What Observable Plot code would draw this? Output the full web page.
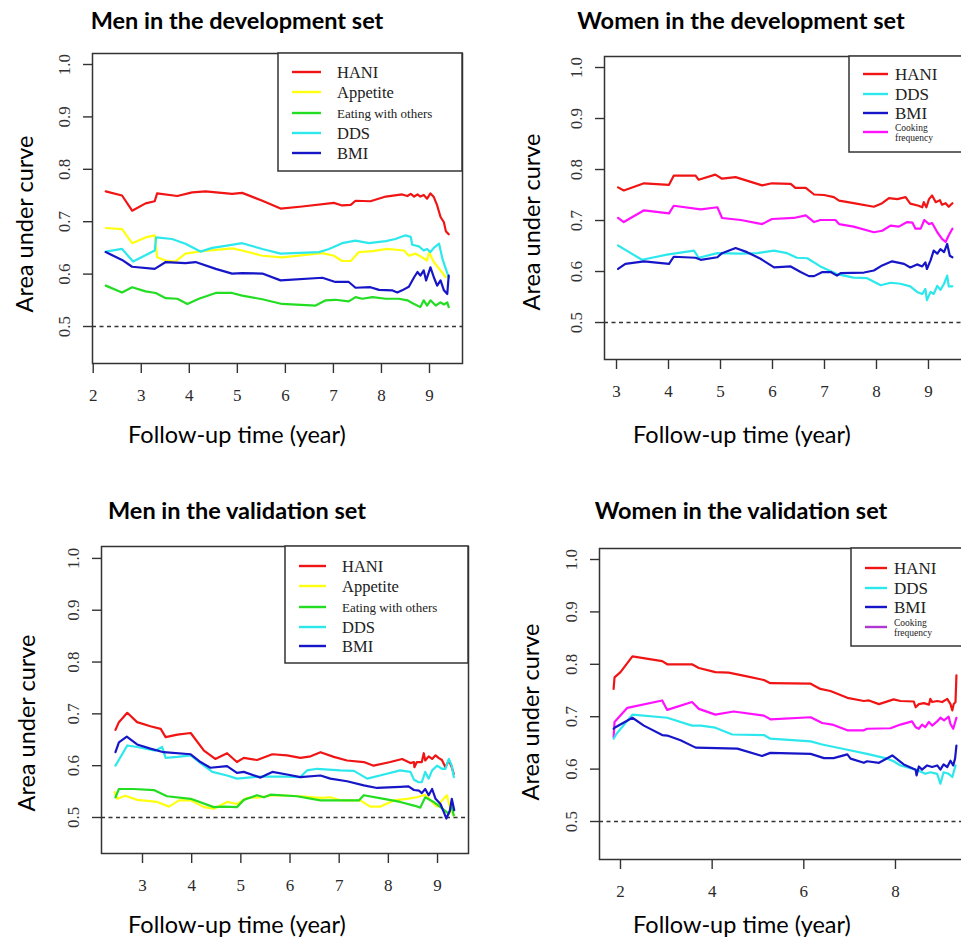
<!DOCTYPE html>
<html>
<head>
<meta charset="utf-8">
<script src="https://cdn.jsdelivr.net/npm/d3@7"></script>
<script src="https://cdn.jsdelivr.net/npm/@observablehq/plot@0.6"></script>
<style>
  html, body { margin: 0; padding: 0; background: #fff; }
  #chart { position: relative; width: 961px; height: 938px; overflow: hidden; background: #fff; }
  #chart > .panel { position: absolute; }
  #chart svg.panel text { font-family: "Liberation Serif", "Times New Roman", serif !important; }
  #overlay { position: absolute; left: 0; top: 0; }
</style>
</head>
<body>
<div id="chart"></div>
<script>
// ---------------- DATA (year, area under curve) ----------------
// Men in the development set
const menDevHANI = [[2.26,0.758],[2.60,0.750],[2.81,0.721],[3.09,0.735],[3.28,0.739],[3.33,0.754],[3.75,0.749],[4.06,0.756],[4.34,0.758],[4.89,0.753],[5.10,0.755],[5.52,0.740],[5.90,0.725],[6.35,0.729],[7.01,0.736],[7.18,0.731],[7.36,0.732],[7.46,0.740],[7.77,0.739],[8.09,0.748],[8.43,0.752],[8.54,0.749],[8.61,0.753],[8.68,0.748],[8.75,0.752],[8.81,0.748],[8.88,0.751],[8.95,0.744],[9.02,0.754],[9.09,0.747],[9.16,0.731],[9.23,0.709],[9.30,0.699],[9.34,0.682],[9.40,0.676]];
const menDevAppetite = [[2.26,0.688],[2.60,0.686],[2.81,0.659],[3.09,0.670],[3.28,0.674],[3.33,0.632],[3.51,0.626],[3.71,0.624],[3.92,0.639],[4.27,0.644],[4.89,0.649],[5.10,0.645],[5.52,0.635],[5.93,0.632],[6.77,0.640],[7.01,0.635],[7.18,0.625],[7.36,0.625],[7.53,0.642],[7.81,0.644],[8.12,0.648],[8.47,0.645],[8.57,0.635],[8.71,0.639],[8.81,0.634],[8.95,0.626],[8.99,0.642],[9.09,0.623],[9.23,0.607],[9.34,0.594]];
const menDevEating = [[2.26,0.578],[2.60,0.565],[2.81,0.575],[3.09,0.567],[3.30,0.564],[3.51,0.554],[3.75,0.553],[3.96,0.543],[4.20,0.553],[4.55,0.564],[4.89,0.564],[5.10,0.559],[5.52,0.552],[5.93,0.543],[6.63,0.540],[6.84,0.550],[7.04,0.551],[7.32,0.548],[7.46,0.556],[7.60,0.553],[7.81,0.556],[8.09,0.553],[8.36,0.553],[8.54,0.550],[8.64,0.545],[8.81,0.537],[8.88,0.550],[8.95,0.540],[9.02,0.550],[9.13,0.540],[9.23,0.546],[9.30,0.542],[9.37,0.546],[9.40,0.537]];
const menDevDDS = [[2.26,0.643],[2.60,0.648],[2.83,0.624],[3.28,0.645],[3.31,0.670],[3.64,0.667],[3.92,0.658],[4.23,0.643],[4.48,0.650],[4.75,0.654],[5.10,0.659],[5.52,0.648],[5.90,0.639],[6.70,0.642],[6.91,0.648],[7.18,0.659],[7.46,0.664],[7.74,0.659],[8.09,0.663],[8.29,0.667],[8.50,0.674],[8.61,0.671],[8.64,0.656],[8.78,0.653],[8.88,0.645],[8.95,0.648],[9.02,0.642],[9.09,0.650],[9.20,0.658],[9.27,0.629],[9.34,0.610],[9.40,0.594]];
const menDevBMI = [[2.26,0.642],[2.60,0.627],[2.81,0.614],[3.28,0.610],[3.51,0.623],[3.92,0.621],[4.13,0.623],[4.55,0.610],[4.89,0.601],[5.10,0.602],[5.52,0.601],[5.90,0.588],[6.77,0.593],[7.04,0.585],[7.32,0.585],[7.46,0.574],[7.77,0.575],[7.95,0.570],[8.22,0.569],[8.33,0.565],[8.43,0.569],[8.57,0.576],[8.68,0.594],[8.75,0.604],[8.81,0.597],[8.88,0.607],[8.93,0.588],[9.02,0.613],[9.09,0.594],[9.16,0.578],[9.23,0.588],[9.30,0.569],[9.37,0.562],[9.40,0.597]];

// Women in the development set
const womenDevHANI = [[3.03,0.765],[3.14,0.759],[3.53,0.773],[4.01,0.770],[4.10,0.788],[4.52,0.788],[4.58,0.780],[4.90,0.790],[5.03,0.782],[5.29,0.785],[5.80,0.769],[5.99,0.773],[6.35,0.772],[6.44,0.764],[6.64,0.764],[6.80,0.751],[6.99,0.750],[7.18,0.746],[7.28,0.739],[7.56,0.734],[7.95,0.727],[8.11,0.734],[8.24,0.744],[8.40,0.742],[8.56,0.746],[8.65,0.733],[8.81,0.729],[8.88,0.726],[8.91,0.736],[8.96,0.726],[9.01,0.742],[9.07,0.749],[9.14,0.736],[9.22,0.740],[9.26,0.731],[9.33,0.734],[9.39,0.727],[9.46,0.734]];
const womenDevDDS = [[3.03,0.651],[3.21,0.640],[3.49,0.623],[3.97,0.633],[4.49,0.641],[4.58,0.627],[4.94,0.636],[5.39,0.635],[5.71,0.636],[6.03,0.641],[6.28,0.636],[6.47,0.627],[6.67,0.626],[6.92,0.610],[7.24,0.595],[7.56,0.588],[7.82,0.587],[8.08,0.573],[8.27,0.578],[8.46,0.576],[8.65,0.571],[8.78,0.560],[8.88,0.556],[8.94,0.566],[8.97,0.544],[9.04,0.560],[9.10,0.556],[9.17,0.572],[9.23,0.564],[9.30,0.576],[9.36,0.592],[9.39,0.571],[9.46,0.571]];
const womenDevBMI = [[3.03,0.605],[3.17,0.615],[3.53,0.620],[4.01,0.615],[4.10,0.629],[4.52,0.627],[4.62,0.623],[4.94,0.628],[5.03,0.636],[5.29,0.646],[5.51,0.638],[5.77,0.625],[6.03,0.608],[6.35,0.610],[6.54,0.599],[6.70,0.591],[6.80,0.591],[6.96,0.599],[7.12,0.599],[7.24,0.592],[7.31,0.597],[7.76,0.598],[7.95,0.602],[8.11,0.612],[8.30,0.620],[8.53,0.615],[8.65,0.608],[8.78,0.614],[8.88,0.610],[8.94,0.618],[8.97,0.605],[9.04,0.622],[9.10,0.641],[9.17,0.635],[9.23,0.644],[9.30,0.638],[9.36,0.654],[9.41,0.631],[9.46,0.628]];
const womenDevCooking = [[3.03,0.705],[3.14,0.697],[3.53,0.720],[4.01,0.714],[4.10,0.729],[4.62,0.722],[4.94,0.726],[5.03,0.705],[5.39,0.701],[5.80,0.693],[5.99,0.703],[6.41,0.705],[6.64,0.710],[6.80,0.697],[6.92,0.701],[7.21,0.701],[7.28,0.693],[7.56,0.688],[7.95,0.677],[8.11,0.680],[8.27,0.690],[8.43,0.688],[8.59,0.697],[8.69,0.696],[8.75,0.684],[8.85,0.684],[8.92,0.701],[9.01,0.693],[9.07,0.695],[9.17,0.677],[9.26,0.664],[9.33,0.658],[9.39,0.671],[9.46,0.684]];

// Men in the validation set
const menValHANI = [[2.45,0.669],[2.52,0.684],[2.69,0.702],[2.89,0.684],[3.16,0.676],[3.37,0.671],[3.47,0.655],[3.71,0.660],[3.98,0.663],[4.25,0.629],[4.48,0.613],[4.72,0.624],[4.92,0.607],[5.06,0.615],[5.33,0.611],[5.64,0.622],[5.94,0.620],[6.21,0.615],[6.42,0.618],[6.62,0.626],[6.89,0.617],[7.16,0.610],[7.50,0.607],[7.70,0.600],[8.04,0.607],[8.28,0.613],[8.45,0.605],[8.52,0.607],[8.53,0.597],[8.58,0.607],[8.68,0.607],[8.72,0.624],[8.75,0.610],[8.82,0.618],[8.89,0.613],[8.96,0.620],[9.02,0.615],[9.09,0.611],[9.16,0.597],[9.23,0.610],[9.29,0.597],[9.33,0.584]];
const menValAppetite = [[2.43,0.549],[2.49,0.536],[2.65,0.542],[2.89,0.534],[3.30,0.530],[3.54,0.521],[3.74,0.533],[3.98,0.533],[4.25,0.520],[4.45,0.517],[4.72,0.530],[4.92,0.526],[5.13,0.538],[5.40,0.539],[5.67,0.543],[6.21,0.541],[6.62,0.538],[6.82,0.539],[7.02,0.533],[7.43,0.533],[7.63,0.521],[7.84,0.521],[8.11,0.533],[8.38,0.536],[8.58,0.539],[8.75,0.544],[8.89,0.530],[8.99,0.521],[9.09,0.533],[9.19,0.543],[9.26,0.517],[9.33,0.504]];
const menValEating = [[2.45,0.539],[2.52,0.555],[2.82,0.555],[3.23,0.553],[3.50,0.541],[3.98,0.536],[4.45,0.520],[4.65,0.521],[4.92,0.520],[5.06,0.534],[5.33,0.543],[5.47,0.539],[5.60,0.544],[6.14,0.541],[6.62,0.533],[6.89,0.533],[7.40,0.533],[7.50,0.543],[7.91,0.536],[8.24,0.530],[8.52,0.523],[8.65,0.519],[8.75,0.539],[8.92,0.530],[9.06,0.520],[9.23,0.507],[9.29,0.523],[9.33,0.504]];
const menValDDS = [[2.45,0.600],[2.69,0.639],[2.89,0.636],[3.26,0.629],[3.40,0.636],[3.47,0.615],[3.71,0.617],[3.98,0.620],[4.18,0.605],[4.42,0.588],[4.72,0.581],[4.92,0.575],[5.40,0.579],[5.94,0.579],[6.21,0.578],[6.35,0.591],[6.55,0.594],[7.02,0.591],[7.30,0.590],[7.57,0.575],[7.91,0.583],[8.24,0.591],[8.45,0.588],[8.52,0.573],[8.62,0.568],[8.68,0.568],[8.75,0.588],[8.82,0.575],[8.89,0.591],[8.99,0.600],[9.09,0.594],[9.16,0.594],[9.23,0.613],[9.29,0.600],[9.33,0.578]];
const menValBMI = [[2.45,0.626],[2.52,0.645],[2.68,0.656],[2.89,0.641],[3.16,0.633],[3.43,0.626],[3.98,0.622],[4.18,0.607],[4.38,0.596],[4.72,0.599],[4.92,0.586],[5.06,0.588],[5.40,0.577],[5.64,0.588],[5.94,0.583],[6.21,0.578],[6.62,0.581],[6.82,0.575],[7.16,0.570],[7.50,0.562],[7.77,0.557],[8.24,0.559],[8.41,0.560],[8.52,0.553],[8.62,0.552],[8.68,0.547],[8.75,0.555],[8.82,0.543],[8.89,0.555],[8.96,0.536],[9.06,0.526],[9.13,0.510],[9.18,0.498],[9.25,0.513],[9.29,0.536],[9.34,0.514]];

// Women in the validation set
const womenValHANI = [[1.85,0.753],[1.87,0.775],[2.00,0.785],[2.26,0.815],[2.91,0.806],[3.02,0.800],[3.56,0.800],[3.71,0.793],[4.07,0.785],[4.36,0.784],[4.76,0.777],[5.13,0.770],[5.27,0.764],[6.15,0.763],[6.36,0.753],[6.58,0.749],[6.95,0.736],[7.31,0.730],[7.42,0.731],[7.64,0.724],[7.96,0.733],[8.11,0.730],[8.40,0.729],[8.44,0.718],[8.51,0.724],[8.62,0.726],[8.73,0.723],[8.76,0.734],[8.80,0.728],[8.91,0.730],[9.02,0.728],[9.13,0.734],[9.20,0.724],[9.24,0.712],[9.27,0.724],[9.31,0.728],[9.33,0.779]];
const womenValDDS = [[1.85,0.658],[1.91,0.667],[2.26,0.704],[3.02,0.698],[3.56,0.683],[3.75,0.683],[4.07,0.679],[4.44,0.666],[5.13,0.665],[5.27,0.658],[6.15,0.653],[6.40,0.647],[6.95,0.637],[7.38,0.629],[7.82,0.620],[7.96,0.615],[8.11,0.607],[8.40,0.600],[8.51,0.597],[8.65,0.591],[8.76,0.594],[8.91,0.591],[8.98,0.572],[9.05,0.594],[9.16,0.591],[9.24,0.585],[9.31,0.607]];
const womenValBMI = [[1.85,0.677],[1.89,0.680],[2.26,0.698],[2.51,0.683],[2.91,0.665],[3.02,0.664],[3.31,0.655],[3.64,0.641],[4.55,0.639],[5.09,0.625],[5.27,0.631],[6.15,0.629],[6.44,0.621],[6.65,0.621],[6.95,0.628],[7.02,0.620],[7.31,0.612],[7.38,0.615],[7.64,0.612],[7.93,0.626],[8.18,0.609],[8.44,0.599],[8.46,0.588],[8.51,0.605],[8.58,0.599],[8.69,0.607],[8.80,0.604],[8.91,0.607],[8.98,0.599],[9.05,0.609],[9.13,0.604],[9.20,0.616],[9.26,0.607],[9.30,0.620],[9.33,0.645]];
const womenValCooking = [[1.85,0.661],[1.87,0.690],[2.15,0.717],[2.91,0.731],[3.02,0.713],[3.56,0.728],[3.71,0.715],[4.07,0.704],[4.47,0.710],[5.13,0.702],[5.27,0.695],[6.15,0.699],[6.40,0.688],[6.62,0.685],[6.95,0.674],[7.31,0.674],[7.38,0.677],[7.89,0.678],[8.11,0.685],[8.36,0.691],[8.44,0.680],[8.51,0.677],[8.58,0.685],[8.65,0.680],[8.73,0.690],[8.80,0.683],[8.91,0.691],[8.98,0.698],[9.06,0.693],[9.16,0.700],[9.20,0.686],[9.26,0.677],[9.33,0.698]];

// Tick values and labels
const yTicks = [0.5, 0.6, 0.7, 0.8, 0.9, 1.0];
const xTicksMenDev = [2, 3, 4, 5, 6, 7, 8, 9];
const xTicksWomenDev = [3, 4, 5, 6, 7, 8, 9];
const xTicksMenVal = [3, 4, 5, 6, 7, 8, 9];
const xTicksWomenVal = [2, 4, 6, 8];
const titles = ["Men in the development set", "Women in the development set", "Men in the validation set", "Women in the validation set"];
const yLabel = "Area under curve";
const xLabel = "Follow-up time (year)";

// ---------------- STYLE ----------------
const colors = {HANI: "#f01414", Appetite: "#ffff10", "Eating with others": "#22dd22", DDS: "#2ce8ec", BMI: "#1616c8", "Cooking frequency": "#ff10ff"};
const serif = "Liberation Serif, Times New Roman, serif";
const sans = "Lato, Open Sans, sans-serif";

const panels = [
  {left: 0, top: 0, width: 480, frame: {l: 92, r: 462, t: 53, b: 363}, xDomain: [1.985, 9.687], yDomain: [0.4294, 1.021], xTicks: xTicksMenDev,
   series: [["HANI", menDevHANI], ["Appetite", menDevAppetite], ["Eating with others", menDevEating], ["DDS", menDevDDS], ["BMI", menDevBMI]],
   title: {x: 237, y: 29}, ylab: {x: 24, y: 224}, xlab: {x: 237, y: 443},
   legend: {x0: 278, x1: 462, y0: 53, y1: 171, lx0: 292, lx1: 321, tx: 337, cook: null,
     items: [["HANI", 72, 16.5], ["Appetite", 92, 16.5], ["Eating with others", 113, 13], ["DDS", 133, 16.5], ["BMI", 153, 16.5]]}},
  {left: 480, top: 0, width: 500, frame: {l: 604, r: 965, t: 56, b: 359}, xDomain: [2.769, 9.712], yDomain: [0.4275, 1.0216], xTicks: xTicksWomenDev,
   series: [["HANI", womenDevHANI], ["Cooking frequency", womenDevCooking], ["DDS", womenDevDDS], ["BMI", womenDevBMI]],
   title: {x: 741, y: 29}, ylab: {x: 531, y: 222}, xlab: {x: 742, y: 443},
   legend: {x0: 849, x1: 975, y0: 56, y1: 152, lx0: 863, lx1: 888, tx: 895, cook: "#ff10ff",
     items: [["HANI", 74, 17], ["DDS", 94, 17], ["BMI", 113, 17], ["Cooking frequency", 132, 9.5]]}},
  {left: 0, top: 480, width: 480, frame: {l: 101, r: 468, t: 546, b: 853}, xDomain: [2.166, 9.63], yDomain: [0.4305, 1.023], xTicks: xTicksMenVal,
   series: [["HANI", menValHANI], ["Appetite", menValAppetite], ["Eating with others", menValEating], ["DDS", menValDDS], ["BMI", menValBMI]],
   title: {x: 237, y: 519}, ylab: {x: 26, y: 723}, xlab: {x: 237, y: 933},
   legend: {x0: 285, x1: 468, y0: 546, y1: 663, lx0: 299, lx1: 326, tx: 342, cook: null,
     items: [["HANI", 566, 16.5], ["Appetite", 586, 16.5], ["Eating with others", 607, 13], ["DDS", 627, 16.5], ["BMI", 646, 16.5]]}},
  {left: 480, top: 480, width: 500, frame: {l: 599, r: 970, t: 548, b: 859}, xDomain: [1.542, 9.637], yDomain: [0.4275, 1.021], xTicks: xTicksWomenVal,
   series: [["HANI", womenValHANI], ["Cooking frequency", womenValCooking], ["DDS", womenValDDS], ["BMI", womenValBMI]],
   title: {x: 741, y: 519}, ylab: {x: 530, y: 712}, xlab: {x: 742, y: 933},
   legend: {x0: 851, x1: 975, y0: 548, y1: 646, lx0: 865, lx1: 887, tx: 894, cook: "#b038d0",
     items: [["HANI", 568, 17], ["DDS", 588, 17], ["BMI", 607, 17], ["Cooking frequency", 627, 9.5]]}}
];

const chart = document.getElementById("chart");
const PH = 458;

panels.forEach((p) => {
  const rows = p.series.flatMap(([name, pts]) => pts.map(([year, auc]) => ({series: name, year, auc})));
  const lineMarks = p.series.map(([name]) =>
    Plot.line(rows.filter(r => r.series === name), {x: "year", y: "auc", stroke: colors[name], strokeWidth: 2.2, strokeLinejoin: "round"}));
  const svg = Plot.plot({
    width: p.width,
    height: PH,
    marginLeft: p.frame.l - p.left,
    marginRight: p.left + p.width - p.frame.r,
    marginTop: p.frame.t - p.top,
    marginBottom: p.top + PH - p.frame.b,
    style: {background: "transparent", overflow: "visible", fontFamily: serif, fontSize: "17px", color: "#333"},
    x: {domain: p.xDomain, ticks: p.xTicks},
    y: {domain: p.yDomain, ticks: yTicks},
    marks: [
      Plot.ruleY([0.5], {stroke: "#333", strokeWidth: 1.4, strokeDasharray: "4,3.5"}),
      ...lineMarks,
      Plot.axisX(p.xTicks, {tickSize: 10, tickPadding: 15, label: null, fontSize: 17, fontFamily: serif, fill: "#2a2a2a", strokeWidth: 1.4}),
      Plot.axisY(yTicks, {tickSize: 9, tickFormat: () => "", label: null, strokeWidth: 1.4}),
      Plot.text(yTicks, {y: d => d, frameAnchor: "left", dx: -28, rotate: -90, text: d => d.toFixed(1),
        fontSize: 17, fontFamily: serif, fill: "#333", textAnchor: "middle", lineAnchor: "middle"}),
      Plot.frame({stroke: "#333", strokeWidth: 1.5})
    ]
  });
  svg.classList.add("panel");
  svg.style.left = p.left + "px";
  svg.style.top = p.top + "px";
  chart.appendChild(svg);
});

// ---------------- Overlay: titles, axis titles, legends ----------------
const ov = d3.select(chart).append("svg").attr("id", "overlay").attr("width", 961).attr("height", 938);
panels.forEach((p, i) => {
  ov.append("text").attr("x", p.title.x).attr("y", p.title.y).attr("text-anchor", "middle")
    .attr("font-family", sans).attr("font-weight", 700).attr("font-size", 23.5).attr("fill", "#000").text(titles[i]);
  ov.append("text").attr("x", p.xlab.x).attr("y", p.xlab.y).attr("text-anchor", "middle")
    .attr("font-family", sans).attr("font-size", 23.5).attr("fill", "#000").text(xLabel);
  ov.append("text").attr("transform", `translate(${p.ylab.x},${p.ylab.y}) rotate(-90)`).attr("text-anchor", "middle")
    .attr("dominant-baseline", "central").attr("font-family", sans).attr("font-size", 23.5).attr("fill", "#000").text(yLabel);

  const L = p.legend;
  ov.append("rect").attr("x", L.x0).attr("y", L.y0).attr("width", L.x1 - L.x0).attr("height", L.y1 - L.y0)
    .attr("fill", "#fff").attr("stroke", "#333").attr("stroke-width", 1.5);
  L.items.forEach(([name, y, fs]) => {
    const c = name === "Cooking frequency" ? L.cook : colors[name];
    ov.append("line").attr("x1", L.lx0).attr("x2", L.lx1).attr("y1", y).attr("y2", y)
      .attr("stroke", c).attr("stroke-width", 2.4);
    if (name === "Cooking frequency") {
      ov.append("text").attr("x", L.tx).attr("y", y - 1).attr("font-family", serif).attr("font-size", fs).attr("fill", "#222").text("Cooking");
      ov.append("text").attr("x", L.tx).attr("y", y + 9).attr("font-family", serif).attr("font-size", fs).attr("fill", "#222").text("frequency");
    } else {
      ov.append("text").attr("x", L.tx).attr("y", y).attr("dominant-baseline", "central")
        .attr("font-family", serif).attr("font-size", fs).attr("fill", "#222").text(name);
    }
  });
});
</script>
</body>
</html>
